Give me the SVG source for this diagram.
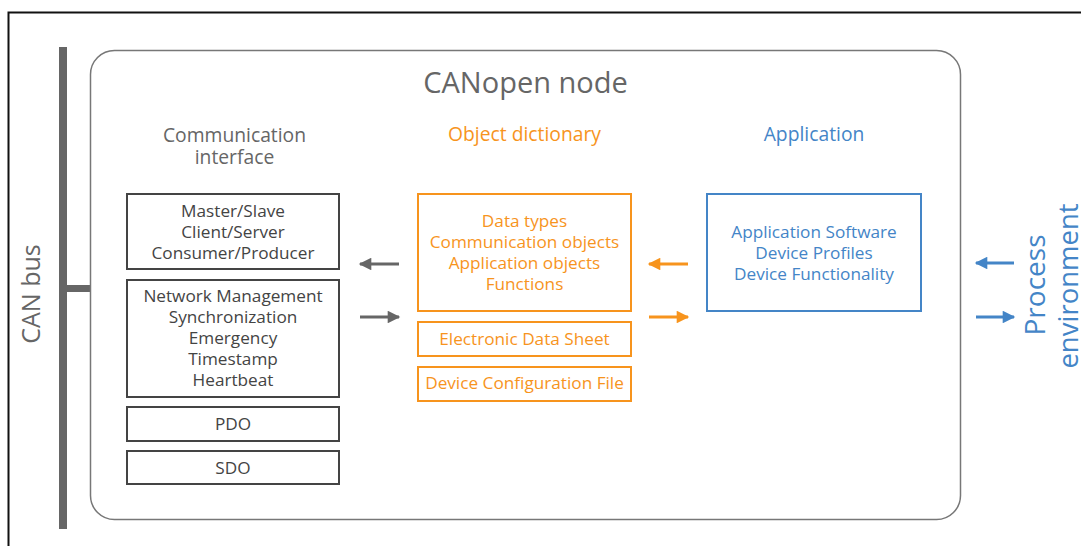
<svg xmlns="http://www.w3.org/2000/svg" width="1081" height="546" viewBox="0 0 1081 546">
<defs>
<style>
text{font-family:"Open Sans","Liberation Sans",sans-serif;text-anchor:middle}
.gbox{fill:#fff;stroke:#444;stroke-width:2}
.obox{fill:#fff;stroke:#f7941d;stroke-width:2}
.bbox{fill:#fff;stroke:#4485c7;stroke-width:2}
.gt{font-size:17.2px;fill:#444}
.ot{font-size:17.2px;fill:#f7941d}
.bt{font-size:17.2px;fill:#4485c7}
.h{font-size:19.3px}
</style>
<marker id="ag" viewBox="0 0 10 10" refX="9" refY="5" markerWidth="4.8" markerHeight="4.2" orient="auto" markerUnits="strokeWidth"><path d="M0,0 L10,5 L0,10 z" fill="#666"/></marker>
<marker id="ao" viewBox="0 0 10 10" refX="9" refY="5" markerWidth="4.8" markerHeight="4.2" orient="auto" markerUnits="strokeWidth"><path d="M0,0 L10,5 L0,10 z" fill="#f7941d"/></marker>
<marker id="ab" viewBox="0 0 10 10" refX="9" refY="5" markerWidth="4.8" markerHeight="4.2" orient="auto" markerUnits="strokeWidth"><path d="M0,0 L10,5 L0,10 z" fill="#4485c7"/></marker>
</defs>
<rect x="0" y="0" width="1081" height="546" fill="#fff"/>
<rect x="8.5" y="12.5" width="1100" height="560" fill="none" stroke="#111" stroke-width="2"/>
<g id="canbus">
<rect x="59" y="47" width="8" height="482" fill="#666"/>
<rect x="67" y="285" width="24" height="7" fill="#666"/>
<text transform="translate(40,294) rotate(-90)" style="font-size:25px;fill:#666">CAN bus</text>
</g>
<g id="node">
<rect x="90.5" y="50.5" width="870" height="469" rx="24" ry="24" fill="none" stroke="#777" stroke-width="1.5"/>
<text x="525.5" y="93" style="font-size:29px;fill:#666">CANopen node</text>
</g>
<g id="comm">
<text x="234.5" y="142" class="h" fill="#666">Communication</text>
<text x="234.5" y="164" class="h" fill="#666">interface</text>
<g id="comm1"><rect x="127" y="194" width="212" height="75" class="gbox"/>
<text x="233" y="217" class="gt">Master/Slave</text>
<text x="233" y="238" class="gt">Client/Server</text>
<text x="233" y="259" class="gt">Consumer/Producer</text></g>
<g id="comm2"><rect x="127" y="280" width="212" height="117" class="gbox"/>
<text x="233" y="302" class="gt">Network Management</text>
<text x="233" y="323" class="gt">Synchronization</text>
<text x="233" y="344" class="gt">Emergency</text>
<text x="233" y="365" class="gt">Timestamp</text>
<text x="233" y="386" class="gt">Heartbeat</text></g>
<g id="pdo"><rect x="127" y="407" width="212" height="34" class="gbox"/>
<text x="233" y="430" class="gt">PDO</text></g>
<g id="sdo"><rect x="127" y="451" width="212" height="33" class="gbox"/>
<text x="233" y="474" class="gt">SDO</text></g>
</g>
<g id="od">
<text x="524.5" y="141" class="h" fill="#f7941d">Object dictionary</text>
<g id="od1"><rect x="418" y="194" width="213" height="117" class="obox"/>
<text x="524.5" y="227" class="ot">Data types</text>
<text x="524.5" y="248" class="ot">Communication objects</text>
<text x="524.5" y="269" class="ot">Application objects</text>
<text x="524.5" y="290" class="ot">Functions</text></g>
<g id="eds"><rect x="418" y="322" width="213" height="34" class="obox"/>
<text x="524.5" y="345" class="ot">Electronic Data Sheet</text></g>
<g id="dcf"><rect x="418" y="367" width="213" height="34" class="obox"/>
<text x="524.5" y="389" class="ot">Device Configuration File</text></g>
</g>
<g id="app">
<text x="814" y="141" class="h" fill="#4485c7">Application</text>
<g id="app1"><rect x="707" y="194" width="214" height="117" class="bbox"/>
<text x="814" y="238" class="bt">Application Software</text>
<text x="814" y="259" class="bt">Device Profiles</text>
<text x="814" y="280" class="bt">Device Functionality</text></g>
</g>
<g id="process">
<text transform="translate(1045,285) rotate(-90)" style="font-size:28px;fill:#4485c7">Process</text>
<text transform="translate(1078,286) rotate(-90)" style="font-size:27.5px;fill:#4485c7">environment</text>
</g>
<g id="connectors" stroke-width="3" fill="none">
<line x1="399" y1="264" x2="360" y2="264" stroke="#666" marker-end="url(#ag)"/>
<line x1="360" y1="317" x2="399" y2="317" stroke="#666" marker-end="url(#ag)"/>
<line x1="688" y1="264" x2="649" y2="264" stroke="#f7941d" marker-end="url(#ao)"/>
<line x1="649" y1="317" x2="688" y2="317" stroke="#f7941d" marker-end="url(#ao)"/>
<line x1="1014" y1="263" x2="976" y2="263" stroke="#4485c7" marker-end="url(#ab)"/>
<line x1="976" y1="317" x2="1014" y2="317" stroke="#4485c7" marker-end="url(#ab)"/>
</g>
</svg>
